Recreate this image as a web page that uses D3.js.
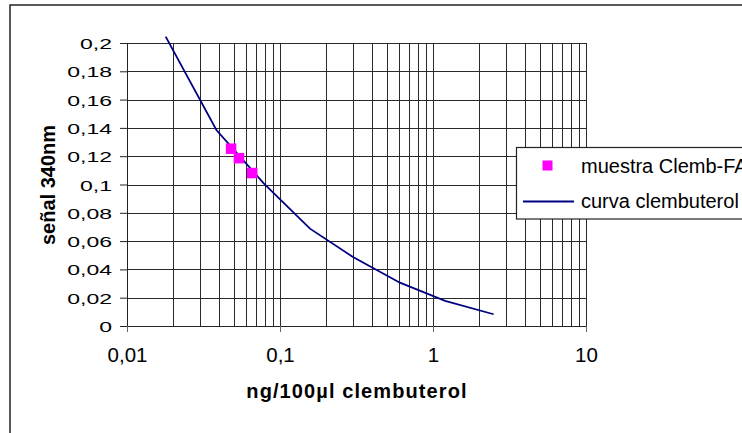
<!DOCTYPE html>
<html>
<head>
<meta charset="utf-8">
<script src="https://cdn.jsdelivr.net/npm/d3@7"></script>
<style>
  body { margin: 0; background: #fff; }
  svg { display: block; font-family: "Liberation Sans", Arial, sans-serif; }
</style>
</head>
<body>
<svg></svg>
<script>
// calibration curve (ng/100µl vs signal)
const curveConc = [0.0179, 0.0384, 0.078, 0.157, 0.298, 0.608, 1.2, 2.49]
const curveSignal = [0.2045, 0.1385, 0.101, 0.0688, 0.049, 0.0306, 0.0177, 0.0083]

// sample points
const sampleConc = [0.0479, 0.0539, 0.0658]
const sampleSignal = [0.1253, 0.1186, 0.1081]

const xTicks = [0.01, 0.1, 1, 10]
const yTicks = [0, 0.02, 0.04, 0.06, 0.08, 0.1, 0.12, 0.14, 0.16, 0.18, 0.2]
const seriesNames = ['muestra Clemb-FA', 'curva clembuterol']

let w = 742, h = 433

let scX = d3.scaleLog().domain([0.01, 10]).range([127, 586])
let scY = d3.scaleLinear().domain([0, 0.2]).range([326, 43])

const fmt = d => String(+d.toFixed(2)).replace('.', ',')

let svg = d3.select('svg')
	.attr('width', w)
	.attr('height', h)

// outer frame
svg.append('rect')
	.attr('x', 10).attr('y', 5)
	.attr('width', 800).attr('height', 500)
	.attr('fill', '#fff')
	.attr('stroke', '#222')
	.attr('stroke-width', 1.5)

// grid
let minor = []
for (let k = -2; k <= 0; k++) {
	for (let m = 1; m <= 9; m++) minor.push(m * Math.pow(10, k))
}
minor.push(10)

let grid = svg.append('g').attr('stroke', '#2a2a2a').attr('stroke-width', 1)
grid.selectAll('.vg').data(minor).enter().append('line')
	.attr('x1', d => Math.round(scX(d)) + 0.5)
	.attr('x2', d => Math.round(scX(d)) + 0.5)
	.attr('y1', scY(0.2))
	.attr('y2', scY(0))
grid.selectAll('.hg').data(yTicks).enter().append('line')
	.attr('x1', scX(0.01))
	.attr('x2', scX(10))
	.attr('y1', d => Math.round(scY(d)) + 0.5)
	.attr('y2', d => Math.round(scY(d)) + 0.5)

// axes
let yAx = d3.axisLeft(scY).tickValues(yTicks).tickSize(7).tickFormat(fmt)
let gy = svg.append('g')
	.attr('transform', `translate(${scX(0.01)},0)`)
	.call(yAx)
gy.select('.domain').attr('stroke', '#222')
gy.selectAll('.tick line').attr('stroke', '#222')
gy.selectAll('.tick text')
	.attr('x', 0).attr('dy', null)
	.attr('transform', 'translate(-15,5.5) scale(1,0.62)')
	.attr('font-size', 23)
	.attr('font-family', null)
	.attr('fill', '#000')

let xAx = d3.axisBottom(scX).tickValues(xTicks).tickSize(6).tickFormat(fmt)
let gx = svg.append('g')
	.attr('transform', `translate(0,${scY(0)})`)
	.call(xAx)
gx.select('.domain').attr('stroke', '#222')
gx.selectAll('.tick line').attr('stroke', '#666')
gx.selectAll('.tick text')
	.attr('y', 0).attr('dy', null)
	.attr('transform', 'translate(0,36)')
	.attr('font-size', 20.5)
	.attr('font-family', null)
	.attr('fill', '#000')

// curve
let curve = curveConc.map((c, i) => [c, curveSignal[i]])
svg.append('path')
	.datum(curve)
	.attr('fill', 'none')
	.attr('stroke', '#000080')
	.attr('stroke-width', 1.8)
	.attr('d', d3.line().x(d => scX(d[0])).y(d => scY(d[1])))

// samples
let ms = 10.5
svg.append('g')
	.selectAll('rect')
	.data(sampleConc.map((c, i) => [c, sampleSignal[i]]))
	.enter().append('rect')
	.attr('x', d => scX(d[0]) - ms / 2)
	.attr('y', d => scY(d[1]) - ms / 2)
	.attr('width', ms).attr('height', ms)
	.attr('fill', '#ff00ff')

// axis titles
svg.append('text')
	.attr('transform', 'translate(55,185) rotate(-90)')
	.attr('text-anchor', 'middle')
	.attr('font-size', 20)
	.attr('font-weight', 'bold')
	.text('señal 340nm')

svg.append('text')
	.attr('x', 357).attr('y', 398)
	.attr('text-anchor', 'middle')
	.attr('font-size', 20)
	.attr('font-weight', 'bold')
	.attr('letter-spacing', 1.1)
	.text('ng/100µl clembuterol')

// legend
let lg = svg.append('g')
lg.append('rect')
	.attr('x', 516.5).attr('y', 147.5)
	.attr('width', 300).attr('height', 71.5)
	.attr('fill', '#fff')
	.attr('stroke', '#222')
	.attr('stroke-width', 1.2)
lg.append('rect')
	.attr('x', 547.5 - 5).attr('y', 165.5 - 5)
	.attr('width', 10).attr('height', 10)
	.attr('fill', '#ff00ff')
lg.append('line')
	.attr('x1', 523).attr('x2', 574)
	.attr('y1', 201.5).attr('y2', 201.5)
	.attr('stroke', '#000080')
	.attr('stroke-width', 1.8)
lg.selectAll('text').data(seriesNames).enter().append('text')
	.attr('x', 581)
	.attr('y', (d, i) => i === 0 ? 173.3 : 207.7)
	.attr('font-size', 20)
	.text(d => d)
</script>
</body>
</html>
